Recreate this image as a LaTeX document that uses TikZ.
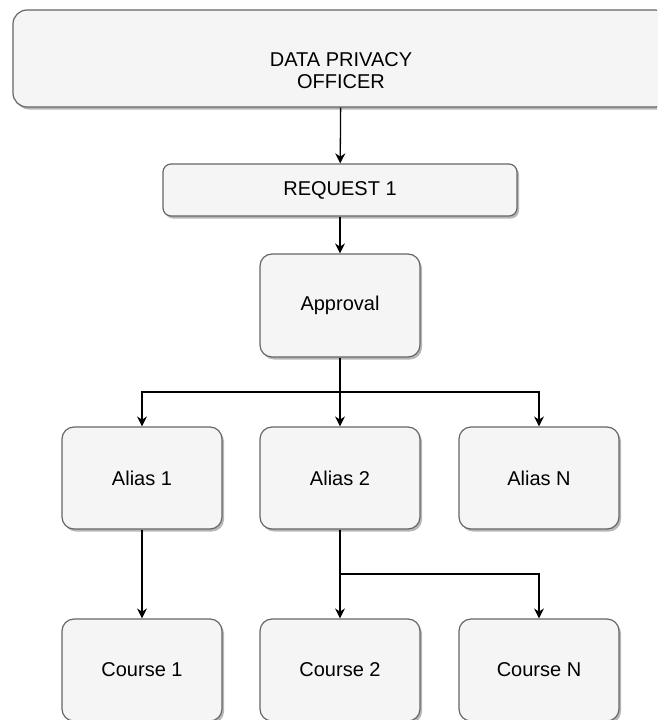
\documentclass[tikz,border=0pt]{standalone}
\usepackage{fontspec}
\setmainfont{Liberation Sans}
\usetikzlibrary{shadows,arrows.meta}
\definecolor{boxfill}{HTML}{F5F5F5}
\definecolor{boxline}{HTML}{666666}

\begin{document}
\begin{tikzpicture}[x=1pt,y=-1pt,
       box/.style={draw=boxline,fill=boxfill,line width=1.2pt,rounded corners=12pt,
         minimum width=160pt,minimum height=102pt,inner sep=0pt,
         font=\fontsize{20}{22}\selectfont,
         drop shadow={shadow xshift=2pt,shadow yshift=-2.5pt,fill=black!40,opacity=0.7}},
       link/.style={line width=1.3pt,-{Stealth[length=10pt,width=10pt]}}]
       \useasboundingbox(0,0)rectangle(657,720);
       \clip(0,0)rectangle(657,720);
       \node[box,minimum width=656pt,minimum height=97pt,rounded corners=14pt](dpo)at(341,58.5){};
       \node[font=\fontsize{20}{22}\selectfont,align=center](dpotext)at(341,71){DATA PRIVACY\\OFFICER};
       \node[box,minimum width=354pt,minimum height=52pt,rounded corners=8pt](req)at(340,190){REQUEST 1};
       \node[box,minimum height=103pt](appr)at(340,305.5){Approval};
       \node[box](al1)at(142,478){Alias 1};
       \node[box](al2)at(340,478){Alias 2};
       \node[box](aln)at(539,478){Alias N};
       \node[box](co1)at(142,670){Course 1};
       \node[box](co2)at(340,670){Course 2};
       \node[box](con)at(539,670){Course N};
       \coordinate(asplit)at(340,392);
       \coordinate(csplit)at(340,574);
       \draw[link](dpo)--(req);
       \draw[link](req)--(appr);
       \draw[link](appr)--(al2);
       \draw[link](appr.south)--(asplit)-|(al1.north);
       \draw[link](appr.south)--(asplit)-|(aln.north);
       \draw[link](al1)--(co1);
       \draw[link](al2)--(co2);
       \draw[link](al2.south)--(csplit)-|(con.north);
      \end{tikzpicture}
\end{document}
